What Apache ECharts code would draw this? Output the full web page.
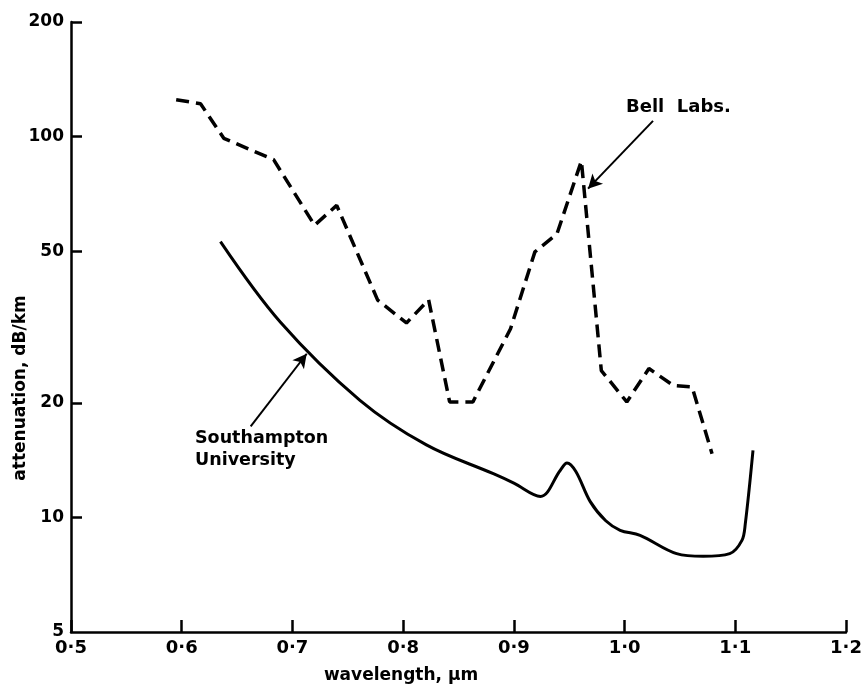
<!DOCTYPE html>
<html><head><meta charset="utf-8">
<script src="https://cdn.jsdelivr.net/npm/echarts@6/dist/echarts.min.js"></script>
<style>html,body{margin:0;padding:0;background:#fff}#c{width:864px;height:684px}</style>
</head><body><div id="c"></div>
<script>
// tick values
const xTickValues = [0.5, 0.6, 0.7, 0.8, 0.9, 1.0, 1.1, 1.2];
const yTickValues = [5, 10, 20, 50, 100, 200];

// Bell Labs. (dashed)
const bellWavelength  = [0.595, 0.617, 0.638, 0.683, 0.720, 0.740, 0.777, 0.803, 0.823, 0.842, 0.863, 0.897, 0.919, 0.939, 0.961, 0.979, 1.002, 1.022, 1.044, 1.061, 1.079];
const bellAttenuation = [125,   122,   99,    87,    58.5,  66,    37.2,  32.4,  37.3,  20.1,  20.1,  31.3,  49.8,  55.6,  86.3,  24.3,  20.1,  24.6,  22.2,  22.0,  14.7];

// Southampton University (solid)
const southWavelength  = [0.635, 0.689, 0.761, 0.821, 0.882, 0.900, 0.924, 0.942, 0.948, 0.956, 0.969, 0.983, 0.996, 1.014, 1.047, 1.071, 1.095, 1.106, 1.109, 1.116];
const southAttenuation = [53,    32.6,  20.3,  15.5,  13.0,  12.3,  11.35, 13.3,  13.9,  13.2,  11.0,  9.8,   9.25,  8.97,  8.03,  7.9,   8.03,  8.7,   9.6,   15.0];

const FONT = '"DejaVu Sans", sans-serif';
const pair = (xs, ys) => xs.map((x, i) => [x, ys[i]]);

const chart = echarts.init(document.getElementById('c'), null, {renderer: 'canvas'});
chart.setOption({
  animation: false,
  backgroundColor: '#fff',
  grid: {left: 71, right: 18, top: 22, bottom: 52, containLabel: false, outerBoundsMode: 'none'},
  xAxis: {
    type: 'value', min: 0.5, max: 1.2, interval: 0.1,
    splitLine: {show: false},
    axisLine: {lineStyle: {color: '#000', width: 2.5}},
    axisTick: {inside: true, length: 12, lineStyle: {color: '#000', width: 2.5}, customValues: xTickValues},
    axisLabel: {
      customValues: xTickValues,
      color: '#000', fontFamily: FONT, fontWeight: 'bold', fontSize: 18, margin: 7,
      formatter: v => (+v).toFixed(1).replace('.', '\u00b7')
    }
  },
  yAxis: {
    type: 'log', logBase: 10, min: 5, max: 200,
    splitLine: {show: false},
    minorTick: {show: false},
    axisLine: {lineStyle: {color: '#000', width: 2.5}},
    axisTick: {inside: true, length: 11, lineStyle: {color: '#000', width: 2.5}, customValues: yTickValues.slice(1)},
    axisLabel: {
      customValues: yTickValues,
      color: '#000', fontFamily: FONT, fontWeight: 'bold', fontSize: 17, margin: 7,
      formatter: v => String(Math.round(v))
    }
  },
  series: [
    {
      name: 'Bell Labs.', type: 'line', data: pair(bellWavelength, bellAttenuation),
      symbol: 'none', silent: true,
      lineStyle: {color: '#000', width: 3.5, type: [13, 7]},
      markLine: {
        silent: true, symbol: ['none', 'arrow'], symbolSize: [11, 14],
        label: {show: false},
        lineStyle: {color: '#000', width: 2, type: 'solid'},
        data: [[{coord: [1.0257, 110]}, {coord: [0.967, 73]}]]
      }
    },
    {
      name: 'Southampton University', type: 'line', data: pair(southWavelength, southAttenuation),
      symbol: 'none', silent: true, smooth: 0.35,
      lineStyle: {color: '#000', width: 3},
      markLine: {
        silent: true, symbol: ['none', 'arrow'], symbolSize: [11, 14],
        label: {show: false},
        lineStyle: {color: '#000', width: 2, type: 'solid'},
        data: [[{coord: [0.6623, 17.35]}, {coord: [0.7129, 26.9]}]]
      }
    }
  ],
  graphic: [
    {type: 'text', x: 21, y: 388, rotation: Math.PI / 2,
     style: {text: 'attenuation, dB/km', font: 'bold 17px ' + FONT, fill: '#000', align: 'center', verticalAlign: 'middle', textAlign: 'center', textVerticalAlign: 'middle'}},
    {type: 'text', x: 401, y: 676,
     style: {text: 'wavelength, \u00b5m', font: 'bold 17px ' + FONT, fill: '#000', align: 'center', verticalAlign: 'middle', textAlign: 'center', textVerticalAlign: 'middle'}},
    {type: 'text', x: 626, y: 107,
     style: {text: 'Bell  Labs.', font: 'bold 18px ' + FONT, fill: '#000', align: 'left', verticalAlign: 'middle', textAlign: 'left', textVerticalAlign: 'middle'}},
    {type: 'text', x: 195, y: 438,
     style: {text: 'Southampton', font: 'bold 17.5px ' + FONT, fill: '#000', align: 'left', verticalAlign: 'middle', textAlign: 'left', textVerticalAlign: 'middle'}},
    {type: 'text', x: 195, y: 460,
     style: {text: 'University', font: 'bold 17.5px ' + FONT, fill: '#000', align: 'left', verticalAlign: 'middle', textAlign: 'left', textVerticalAlign: 'middle'}}
  ]
});
</script>
</body></html>
